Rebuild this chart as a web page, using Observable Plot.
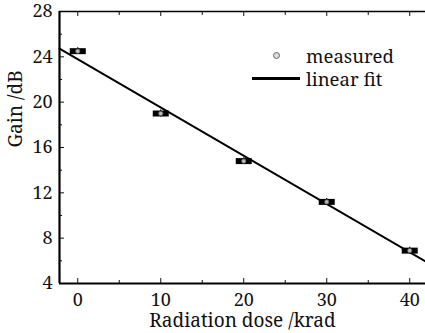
<!DOCTYPE html>
<html><head><meta charset="utf-8">
<script src="https://cdn.jsdelivr.net/npm/d3@7"></script>
<script src="https://cdn.jsdelivr.net/npm/@observablehq/plot@0.6"></script>
<style>
body{margin:0;background:#fff;}
#wrap{position:relative;width:425px;height:333px;font-family:'Noto Serif','DejaVu Serif Condensed',serif;}
#wrap svg{overflow:visible;}
#legend{position:absolute;left:252px;top:44px;font-size:18.5px;color:#111;line-height:23px;}
#legend .row{display:flex;align-items:center;height:23px;}
#legend .sym{width:48px;display:flex;justify-content:center;align-items:center;margin-right:6px;}
.circ{width:5px;height:5px;border:1px solid #666;border-radius:50%;background:#ddd;}
.ln{width:48px;height:3px;background:#000;}
</style></head>
<body><div id="wrap"><div id="legend">
<div class="row"><div class="sym"><div class="circ"></div></div>measured</div>
<div class="row"><div class="sym"><div class="ln"></div></div>linear fit</div>
</div></div>
<script>
const doses = [0, 10, 20, 30, 40];
const gains = [24.5, 19.0, 14.8, 11.2, 6.9];
const errs = [0.3, 0.3, 0.3, 0.3, 0.3];
const fitX = [-2.2, 41.9];
const fitY = [24.72, 5.95];
const xTicks = [0, 10, 20, 30, 40];
const xMinor = [5, 15, 25, 35];
const yTicks = [4, 8, 12, 16, 20, 24, 28];
const yMinor = [6, 10, 14, 18, 22, 26];

const pts = doses.map((d, i) => ({x: d, y: gains[i], e: errs[i]}));
const fit = fitX.map((d, i) => ({x: d, y: fitY[i]}));
const barSym = {draw(ctx){ ctx.rect(-8, -3, 16, 6); }};

const font = "'Noto Serif', 'DejaVu Serif Condensed', serif";
const chart = Plot.plot({
  width: 425, height: 333,
  marginLeft: 59, marginRight: 0, marginTop: 11, marginBottom: 50,
  style: {fontFamily: font, fontSize: "18px", color: "#111", background: "white", overflow: "visible"},
  x: {domain: [-2.2, 41.9]},
  y: {domain: [4, 28]},
  marks: [
    Plot.axisX(xTicks, {anchor: "bottom", tickSize: -5, tickPadding: 15, label: null, fontSize: 18, tickFormat: d => d}),
    Plot.axisX(xMinor, {anchor: "bottom", tickSize: -3, tickFormat: () => "", label: null}),
    Plot.axisX(xTicks, {anchor: "top", tickSize: -4, tickFormat: () => "", label: null}),
    Plot.axisX(xMinor, {anchor: "top", tickSize: -3, tickFormat: () => "", label: null}),
    Plot.axisY(yTicks, {anchor: "left", tickSize: -5, tickPadding: 12, label: null, fontSize: 18, tickFormat: d => d}),
    Plot.axisY(yMinor, {anchor: "left", tickSize: -3, tickFormat: () => "", label: null}),
    Plot.ruleX([-2.2], {strokeWidth: 2.2, stroke: "#000"}),
    Plot.ruleY([4], {strokeWidth: 2.2, stroke: "#000"}),
    Plot.ruleY([28], {strokeWidth: 1.5, stroke: "#000"}),
    Plot.line(fit, {x: "x", y: "y", stroke: "#000", strokeWidth: 2}),
    Plot.ruleX(pts, {x: "x", y1: d => d.y - d.e, y2: d => d.y + d.e, stroke: "#000", strokeWidth: 1.2}),
    Plot.dot(pts, {x: "x", y: "y", symbol: barSym, fill: "#000", stroke: "none"}),
    Plot.dot(pts, {x: "x", y: "y", r: 2.2, fill: "#bbb", stroke: "#555", strokeWidth: 0.8}),
    Plot.text(["Radiation dose /krad"], {frameAnchor: "bottom", dy: 43, fontSize: 19, fill: "#111"}),
    Plot.text(["Gain /dB"], {frameAnchor: "left", dx: -44, rotate: -90, fontSize: 19, fill: "#111"})
  ]
});
document.getElementById("wrap").prepend(chart);
</script>
</body></html>
